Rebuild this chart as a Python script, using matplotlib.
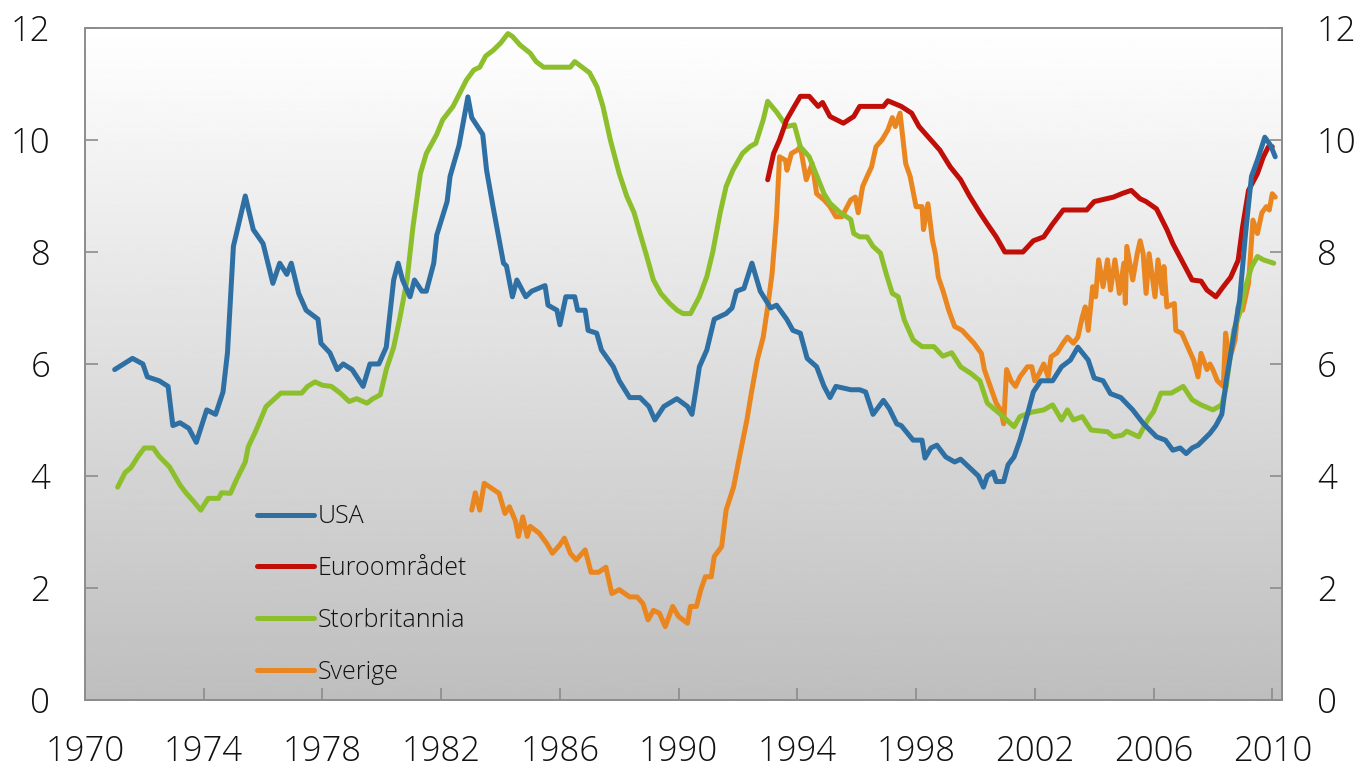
import matplotlib
matplotlib.use("Agg")
import matplotlib.pyplot as plt
import numpy as np

plt.rcParams['font.family'] = ['Open Sans', 'DejaVu Sans']

# unemployment rate, per cent
usa_x = [1971.0, 1971.3, 1971.6, 1971.95, 1972.1, 1972.5, 1972.8, 1972.96, 1973.2, 1973.5, 1973.75,
         1974.1, 1974.4, 1974.65, 1974.8, 1975.0, 1975.4, 1975.67, 1976.0, 1976.33, 1976.56, 1976.8,
         1976.95, 1977.2, 1977.45, 1977.85, 1977.95, 1978.25, 1978.5, 1978.7, 1979.0, 1979.37, 1979.6,
         1979.9, 1980.15, 1980.4, 1980.55, 1980.7, 1980.95, 1981.1, 1981.35, 1981.5, 1981.75, 1981.85,
         1982.2, 1982.3, 1982.6, 1982.9, 1983.03, 1983.4, 1983.53, 1983.75, 1984.1, 1984.2, 1984.4,
         1984.55, 1984.85, 1985.05, 1985.5, 1985.6, 1985.9, 1986.0, 1986.2, 1986.5, 1986.6, 1986.85,
         1986.95, 1987.24, 1987.4, 1987.8, 1988.0, 1988.35, 1988.7, 1989.0, 1989.2, 1989.5, 1989.94,
         1990.3, 1990.45, 1990.6, 1990.7, 1990.95, 1991.2, 1991.4, 1991.6, 1991.8, 1991.95, 1992.2,
         1992.47, 1992.75, 1993.1, 1993.3, 1993.64, 1993.85, 1994.1, 1994.33, 1994.65, 1994.9, 1995.1,
         1995.3, 1995.8, 1996.1, 1996.3, 1996.55, 1996.9, 1997.1, 1997.35, 1997.5, 1997.9, 1998.2,
         1998.3, 1998.5, 1998.7, 1999.0, 1999.3, 1999.5, 1999.9, 2000.1, 2000.27, 2000.4, 2000.6,
         2000.7, 2000.95, 2001.1, 2001.3, 2001.5, 2001.75, 2001.95, 2002.2, 2002.6, 2002.9, 2003.2,
         2003.45, 2003.8, 2004.0, 2004.3, 2004.55, 2004.9, 2005.3, 2005.65, 2006.1, 2006.4, 2006.65,
         2006.9, 2007.1, 2007.3, 2007.5, 2007.9, 2008.1, 2008.3, 2008.45, 2008.9, 2009.1, 2009.3,
         2009.5, 2009.75, 2009.95, 2010.1]
usa_y = [5.9, 6.0, 6.1, 6.0, 5.77, 5.7, 5.6, 4.9, 4.95, 4.85, 4.6,
         5.18, 5.1, 5.5, 6.2, 8.1, 9.0, 8.4, 8.15, 7.44, 7.8, 7.6,
         7.8, 7.26, 6.96, 6.8, 6.37, 6.2, 5.9, 6.0, 5.9, 5.6, 6.0,
         6.0, 6.3, 7.5, 7.8, 7.5, 7.2, 7.5, 7.3, 7.3, 7.8, 8.3,
         8.9, 9.35, 9.9, 10.77, 10.4, 10.1, 9.46, 8.8, 7.8, 7.75, 7.2,
         7.5, 7.2, 7.3, 7.4, 7.05, 6.96, 6.7, 7.2, 7.2, 6.96, 6.96,
         6.6, 6.55, 6.25, 5.95, 5.7, 5.4, 5.4, 5.24, 5.0, 5.24, 5.38,
         5.24, 5.1, 5.6, 5.95, 6.25, 6.8, 6.85, 6.9, 7.0, 7.3, 7.35,
         7.8, 7.3, 7.0, 7.05, 6.8, 6.6, 6.55, 6.1, 5.95, 5.6, 5.4,
         5.6, 5.54, 5.54, 5.5, 5.1, 5.35, 5.2, 4.93, 4.9, 4.64, 4.64,
         4.32, 4.5, 4.55, 4.34, 4.25, 4.3, 4.1, 4.0, 3.8, 4.0, 4.07,
         3.9, 3.9, 4.2, 4.34, 4.64, 5.1, 5.5, 5.7, 5.7, 5.95, 6.07,
         6.3, 6.07, 5.75, 5.7, 5.47, 5.4, 5.18, 4.94, 4.7, 4.64, 4.46,
         4.5, 4.4, 4.5, 4.55, 4.76, 4.9, 5.1, 5.7, 7.14, 8.33, 9.35,
         9.64, 10.05, 9.9, 9.7]

euro_x = [1993.0, 1993.2, 1993.4, 1993.64, 1993.9, 1994.1, 1994.4, 1994.7, 1994.85, 1995.1, 1995.55,
          1995.9, 1996.1, 1996.9, 1997.05, 1997.5, 1997.85, 1998.1, 1998.4, 1998.8, 1999.15, 1999.5,
          1999.8, 2000.15, 2000.4, 2000.7, 2000.99, 2001.6, 2001.95, 2002.3, 2002.6, 2002.96, 2003.75,
          2004.0, 2004.65, 2004.97, 2005.25, 2005.55, 2005.75, 2006.1, 2006.45, 2006.65, 2007.0,
          2007.3, 2007.6, 2007.8, 2008.1, 2008.35, 2008.6, 2008.85, 2009.0, 2009.2, 2009.5, 2009.7,
          2009.87, 2010.0]
euro_y = [9.29, 9.76, 10.0, 10.36, 10.6, 10.78, 10.78, 10.6, 10.67, 10.42, 10.3,
          10.42, 10.6, 10.6, 10.7, 10.6, 10.48, 10.24, 10.06, 9.82, 9.52, 9.29,
          9.0, 8.7, 8.5, 8.27, 8.0, 8.0, 8.2, 8.27, 8.5, 8.75, 8.75,
          8.9, 8.98, 9.05, 9.1, 8.95, 8.9, 8.77, 8.4, 8.15, 7.8,
          7.5, 7.48, 7.32, 7.2, 7.38, 7.55, 7.85, 8.45, 9.1, 9.4, 9.7,
          9.88, 9.88]

uk_x = [1971.1, 1971.35, 1971.55, 1971.8, 1972.0, 1972.3, 1972.5, 1972.85, 1973.2, 1973.4, 1973.65,
        1973.9, 1974.15, 1974.5, 1974.6, 1974.9, 1975.1, 1975.4, 1975.5, 1975.75, 1976.1, 1976.35,
        1976.6, 1977.3, 1977.5, 1977.75, 1978.0, 1978.3, 1978.6, 1978.9, 1979.15, 1979.5, 1979.7,
        1979.95, 1980.15, 1980.4, 1980.6, 1980.85, 1981.05, 1981.3, 1981.5, 1981.85, 1982.05, 1982.4,
        1982.85, 1983.1, 1983.3, 1983.5, 1983.75, 1984.0, 1984.25, 1984.4, 1984.65, 1985.0, 1985.2,
        1985.45, 1986.35, 1986.5, 1986.8, 1987.0, 1987.25, 1987.45, 1987.7, 1988.0, 1988.25, 1988.5,
        1988.7, 1988.9, 1989.15, 1989.4, 1989.7, 1989.95, 1990.15, 1990.4, 1990.7, 1990.95, 1991.15,
        1991.4, 1991.6, 1991.83, 1992.15, 1992.4, 1992.6, 1992.85, 1993.0, 1993.3, 1993.64, 1993.9,
        1994.1, 1994.4, 1994.55, 1994.9, 1995.1, 1995.45, 1995.8, 1995.9, 1996.1, 1996.35, 1996.55,
        1996.8, 1997.0, 1997.2, 1997.4, 1997.6, 1997.9, 1998.2, 1998.6, 1998.9, 1999.2, 1999.5,
        1999.85, 2000.15, 2000.4, 2000.85, 2001.3, 2001.5, 2001.9, 2002.3, 2002.6, 2002.9, 2003.1,
        2003.3, 2003.6, 2003.9, 2004.45, 2004.65, 2004.95, 2005.1, 2005.5, 2005.8, 2006.0, 2006.25,
        2006.6, 2007.0, 2007.3, 2007.6, 2008.0, 2008.3, 2008.45, 2008.7, 2008.9, 2009.1, 2009.3,
        2009.5, 2009.7, 2010.05]
uk_y = [3.8, 4.06, 4.15, 4.36, 4.5, 4.5, 4.35, 4.16, 3.84, 3.7, 3.55,
        3.39, 3.6, 3.6, 3.7, 3.69, 3.93, 4.25, 4.52, 4.8, 5.24, 5.36,
        5.48, 5.48, 5.6, 5.68, 5.62, 5.6, 5.48, 5.33, 5.38, 5.3, 5.38,
        5.45, 5.9, 6.3, 6.8, 7.5, 8.45, 9.4, 9.76, 10.1, 10.36, 10.6,
        11.07, 11.25, 11.3, 11.5, 11.6, 11.73, 11.9, 11.85, 11.7, 11.55, 11.4,
        11.3, 11.3, 11.4, 11.28, 11.2, 10.95, 10.6, 10.0, 9.4, 9.0, 8.7,
        8.33, 7.97, 7.5, 7.26, 7.08, 6.96, 6.9, 6.9, 7.2, 7.56, 8.0,
        8.7, 9.17, 9.46, 9.76, 9.88, 9.94, 10.36, 10.69, 10.5, 10.24, 10.27,
        9.88, 9.7, 9.5, 9.04, 8.87, 8.7, 8.58, 8.33, 8.27, 8.27, 8.1,
        7.98, 7.6, 7.26, 7.2, 6.79, 6.43, 6.31, 6.31, 6.14, 6.2, 5.95,
        5.83, 5.7, 5.3, 5.1, 4.88, 5.06, 5.14, 5.18, 5.27, 5.0, 5.18,
        5.0, 5.06, 4.82, 4.79, 4.7, 4.73, 4.8, 4.7, 5.0, 5.15, 5.48,
        5.48, 5.6, 5.36, 5.27, 5.18, 5.27, 5.6, 6.6, 6.9, 7.38, 7.73,
        7.92, 7.86, 7.8]

swe_x = [1983.03, 1983.15, 1983.3, 1983.45, 1983.7, 1983.95, 1984.15, 1984.3, 1984.5, 1984.6, 1984.75,
         1984.9, 1985.0, 1985.3, 1985.55, 1985.75, 1986.0, 1986.15, 1986.35, 1986.55, 1986.85, 1987.05,
         1987.3, 1987.55, 1987.75, 1988.0, 1988.35, 1988.6, 1988.8, 1988.97, 1989.15, 1989.35, 1989.55,
         1989.8, 1990.0, 1990.3, 1990.4, 1990.6, 1990.75, 1990.9, 1991.1, 1991.2, 1991.45, 1991.6,
         1991.85, 1992.05, 1992.3, 1992.45, 1992.65, 1992.85, 1993.0, 1993.15, 1993.3, 1993.4, 1993.6,
         1993.65, 1993.8, 1994.0, 1994.1, 1994.3, 1994.5, 1994.65, 1994.9, 1995.1, 1995.3, 1995.5,
         1995.8, 1995.95, 1996.05, 1996.2, 1996.35, 1996.5, 1996.65, 1996.85, 1997.05, 1997.2, 1997.3,
         1997.46, 1997.65, 1997.8, 1998.0, 1998.2, 1998.25, 1998.4, 1998.55, 1998.65, 1998.75, 1998.9,
         1999.1, 1999.3, 1999.55, 1999.95, 2000.2, 2000.3, 2000.5, 2000.7, 2000.85, 2000.95, 2001.05,
         2001.2, 2001.35, 2001.5, 2001.75, 2001.9, 2002.0, 2002.15, 2002.3, 2002.45, 2002.55, 2002.75,
         2002.95, 2003.1, 2003.3, 2003.45, 2003.6, 2003.7, 2003.8, 2003.95, 2004.05, 2004.15, 2004.3,
         2004.45, 2004.55, 2004.7, 2004.85, 2005.0, 2005.05, 2005.1, 2005.3, 2005.45, 2005.55, 2005.65,
         2005.75, 2005.85, 2006.05, 2006.15, 2006.3, 2006.35, 2006.45, 2006.7, 2006.75, 2006.95, 2007.15,
         2007.35, 2007.5, 2007.6, 2007.8, 2007.9, 2008.0, 2008.15, 2008.35, 2008.43, 2008.55, 2008.75,
         2008.85, 2009.0, 2009.2, 2009.35, 2009.5, 2009.65, 2009.8, 2009.9, 2010.0, 2010.1]
swe_y = [3.39, 3.7, 3.39, 3.87, 3.78, 3.69, 3.33, 3.45, 3.2, 2.92, 3.27,
         2.92, 3.1, 2.98, 2.8, 2.62, 2.77, 2.89, 2.62, 2.5, 2.68, 2.28,
         2.28, 2.37, 1.9, 1.97, 1.84, 1.84, 1.72, 1.43, 1.6, 1.55, 1.31,
         1.67, 1.49, 1.37, 1.67, 1.67, 1.97, 2.2, 2.2, 2.56, 2.74, 3.39,
         3.8, 4.34, 5.0, 5.48, 6.07, 6.48, 7.02, 7.62, 8.63, 9.7, 9.64,
         9.46, 9.76, 9.82, 9.88, 9.29, 9.58, 9.04, 8.93, 8.81, 8.63, 8.63,
         8.93, 8.98, 8.7, 9.17, 9.35, 9.52, 9.88, 10.0, 10.18, 10.4, 10.24,
         10.48, 9.58, 9.35, 8.81, 8.81, 8.4, 8.86, 8.21, 7.97, 7.55, 7.32,
         6.96, 6.67, 6.6, 6.37, 6.19, 5.9, 5.6, 5.3, 5.18, 4.93, 5.9,
         5.7, 5.6, 5.77, 5.95, 5.95, 5.7, 5.83, 6.0, 5.77, 6.13, 6.2,
         6.37, 6.48, 6.37, 6.48, 6.84, 7.02, 6.6, 7.38, 7.2, 7.86, 7.38,
         7.86, 7.32, 7.86, 7.26, 7.8, 7.08, 8.1, 7.5, 7.97, 8.2, 7.97,
         7.26, 7.97, 7.2, 7.86, 7.26, 7.74, 7.02, 7.08, 6.6, 6.55, 6.31,
         6.07, 5.77, 6.19, 5.9, 6.0, 5.9, 5.7, 5.6, 6.55, 6.07, 6.43,
         7.02, 6.96, 7.44, 8.57, 8.33, 8.7, 8.81, 8.75, 9.04, 8.98]

series = [
    ('USA', usa_x, usa_y, '#2e6fa4'),
    ('Euroområdet', euro_x, euro_y, '#c00f08'),
    ('Storbritannia', uk_x, uk_y, '#8dbf2c'),
    ('Sverige', swe_x, swe_y, '#ea861f'),
]
xticks = list(range(1970, 2011, 4))
yticks = list(range(0, 13, 2))

fig = plt.figure(figsize=(13.62, 7.67), dpi=100)
ax = fig.add_axes([0.0624, 0.0874, 0.8789, 0.8761])
xmin, xmax = 1970, 2010.33

# grey gradient background
grad = np.linspace(1.0, 0.745, 256).reshape(-1, 1)
ax.imshow(grad, cmap='gray', vmin=0, vmax=1, aspect='auto',
          extent=[xmin, xmax, 0, 12], origin='upper', zorder=0)

# draw in reverse so USA ends on top like the original
for name, xs, ys, col in series[::-1]:
    ax.plot(xs, ys, color=col, lw=3.6, label=name, solid_capstyle='round', zorder=2)

ax.set_xlim(xmin, xmax)
ax.set_ylim(0, 12)
ax.set_xticks(xticks)
ax.set_yticks(yticks)

ax2 = ax.twinx()
ax2.set_ylim(0, 12)
ax2.set_yticks(yticks)

for a in (ax, ax2):
    for s in a.spines.values():
        s.set_color('#8c8c8c')
        s.set_linewidth(1.2)
ax.tick_params(axis='both', direction='in', length=9, width=1.2, color='#8c8c8c',
               labelsize=25, pad=25, labelcolor='#111111')
ax2.tick_params(axis='y', direction='in', length=9, width=1.2, color='#8c8c8c',
                labelsize=25, pad=25, labelcolor='#111111')
for lab in ax.get_xticklabels() + ax.get_yticklabels() + ax2.get_yticklabels():
    lab.set_fontweight('light')

handles, labels = ax.get_legend_handles_labels()
leg = ax.legend(handles[::-1], labels[::-1], loc='upper left', bbox_to_anchor=(0.135, 0.306),
                frameon=False, fontsize=18, handlelength=2.3, handletextpad=0.15,
                labelspacing=1.07, borderaxespad=0)
for t in leg.get_texts():
    t.set_fontweight('light')
    t.set_color('#111111')

fig.savefig('out.png', dpi=100)
